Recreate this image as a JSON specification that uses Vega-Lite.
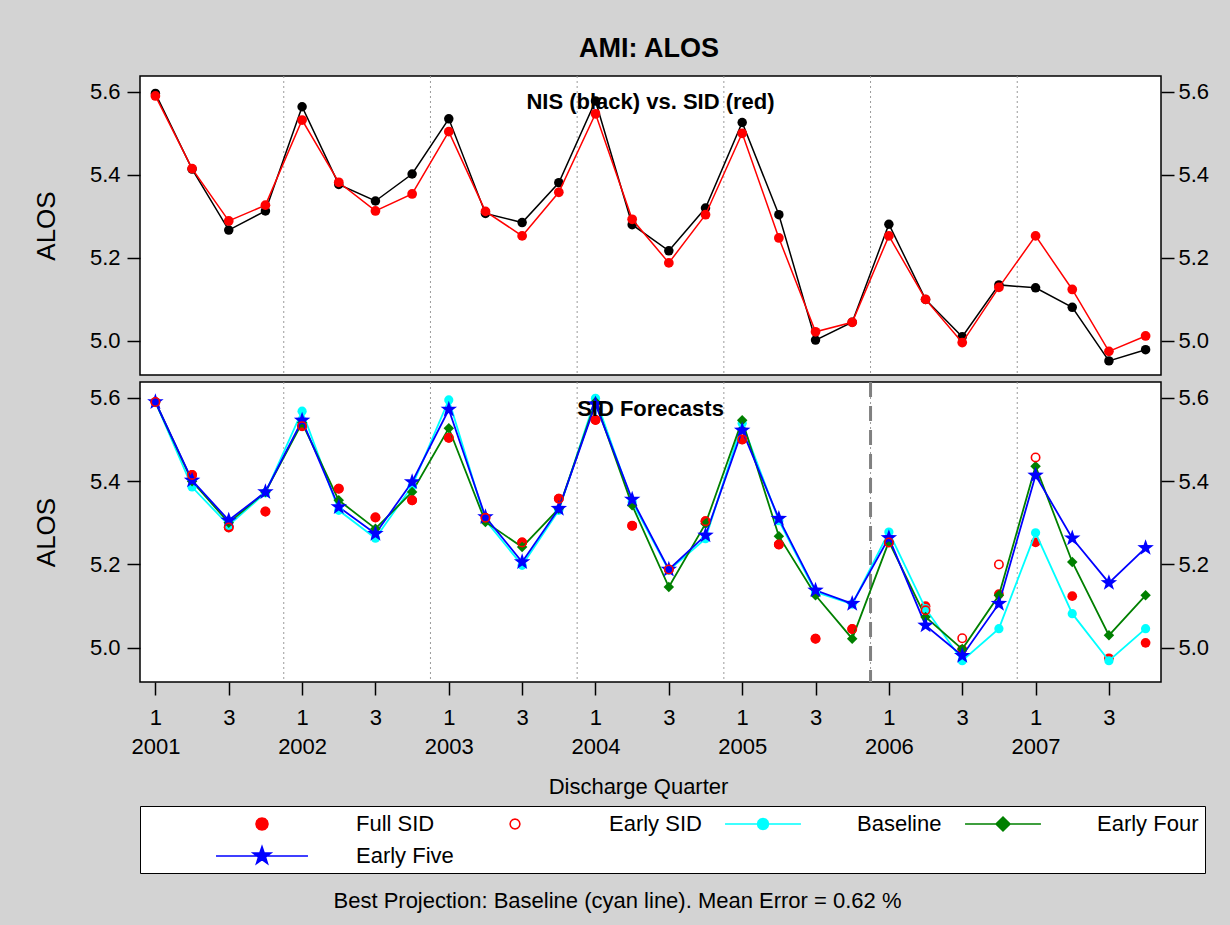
{
  "$schema": "https://vega.github.io/schema/vega-lite/v6.json",
  "background": "#d3d3d3",
  "padding": {"left": 32, "top": 34, "right": 22, "bottom": 15},
  "datasets": {
    "alos": [
      {"q":0,"series":"NIS","value":5.596},{"q":1,"series":"NIS","value":5.414},{"q":2,"series":"NIS","value":5.267},{"q":3,"series":"NIS","value":5.313},
      {"q":4,"series":"NIS","value":5.564},{"q":5,"series":"NIS","value":5.377},{"q":6,"series":"NIS","value":5.337},{"q":7,"series":"NIS","value":5.402},
      {"q":8,"series":"NIS","value":5.535},{"q":9,"series":"NIS","value":5.307},{"q":10,"series":"NIS","value":5.285},{"q":11,"series":"NIS","value":5.381},
      {"q":12,"series":"NIS","value":5.578},{"q":13,"series":"NIS","value":5.280},{"q":14,"series":"NIS","value":5.217},{"q":15,"series":"NIS","value":5.320},
      {"q":16,"series":"NIS","value":5.526},{"q":17,"series":"NIS","value":5.304},{"q":18,"series":"NIS","value":5.002},{"q":19,"series":"NIS","value":5.045},
      {"q":20,"series":"NIS","value":5.281},{"q":21,"series":"NIS","value":5.100},{"q":22,"series":"NIS","value":5.010},{"q":23,"series":"NIS","value":5.135},
      {"q":24,"series":"NIS","value":5.128},{"q":25,"series":"NIS","value":5.081},{"q":26,"series":"NIS","value":4.952},{"q":27,"series":"NIS","value":4.979},

      {"q":0,"series":"Full SID","value":5.590},{"q":1,"series":"Full SID","value":5.415},{"q":2,"series":"Full SID","value":5.289},{"q":3,"series":"Full SID","value":5.327},
      {"q":4,"series":"Full SID","value":5.532},{"q":5,"series":"Full SID","value":5.382},{"q":6,"series":"Full SID","value":5.313},{"q":7,"series":"Full SID","value":5.354},
      {"q":8,"series":"Full SID","value":5.504},{"q":9,"series":"Full SID","value":5.312},{"q":10,"series":"Full SID","value":5.253},{"q":11,"series":"Full SID","value":5.358},
      {"q":12,"series":"Full SID","value":5.547},{"q":13,"series":"Full SID","value":5.293},{"q":14,"series":"Full SID","value":5.188},{"q":15,"series":"Full SID","value":5.304},
      {"q":16,"series":"Full SID","value":5.500},{"q":17,"series":"Full SID","value":5.248},{"q":18,"series":"Full SID","value":5.022},{"q":19,"series":"Full SID","value":5.045},
      {"q":20,"series":"Full SID","value":5.253},{"q":21,"series":"Full SID","value":5.100},{"q":22,"series":"Full SID","value":4.996},{"q":23,"series":"Full SID","value":5.129},
      {"q":24,"series":"Full SID","value":5.253},{"q":25,"series":"Full SID","value":5.124},{"q":26,"series":"Full SID","value":4.975},{"q":27,"series":"Full SID","value":5.012},

      {"q":0,"series":"Early SID","value":5.590},{"q":1,"series":"Early SID","value":5.415},{"q":2,"series":"Early SID","value":5.289},{"q":3,"series":"Early SID","value":5.327},
      {"q":4,"series":"Early SID","value":5.532},{"q":5,"series":"Early SID","value":5.382},{"q":6,"series":"Early SID","value":5.313},{"q":7,"series":"Early SID","value":5.354},
      {"q":8,"series":"Early SID","value":5.504},{"q":9,"series":"Early SID","value":5.312},{"q":10,"series":"Early SID","value":5.253},{"q":11,"series":"Early SID","value":5.358},
      {"q":12,"series":"Early SID","value":5.547},{"q":13,"series":"Early SID","value":5.293},{"q":14,"series":"Early SID","value":5.188},{"q":15,"series":"Early SID","value":5.304},
      {"q":16,"series":"Early SID","value":5.500},{"q":17,"series":"Early SID","value":5.248},{"q":18,"series":"Early SID","value":5.022},{"q":19,"series":"Early SID","value":5.045},
      {"q":20,"series":"Early SID","value":5.253},{"q":21,"series":"Early SID","value":5.090},{"q":22,"series":"Early SID","value":5.023},{"q":23,"series":"Early SID","value":5.200},
      {"q":24,"series":"Early SID","value":5.457},

      {"q":0,"series":"Baseline","value":5.590},{"q":1,"series":"Baseline","value":5.386},{"q":2,"series":"Baseline","value":5.294},{"q":3,"series":"Baseline","value":5.372},
      {"q":4,"series":"Baseline","value":5.568},{"q":5,"series":"Baseline","value":5.330},{"q":6,"series":"Baseline","value":5.263},{"q":7,"series":"Baseline","value":5.388},
      {"q":8,"series":"Baseline","value":5.595},{"q":9,"series":"Baseline","value":5.306},{"q":10,"series":"Baseline","value":5.198},{"q":11,"series":"Baseline","value":5.330},
      {"q":12,"series":"Baseline","value":5.599},{"q":13,"series":"Baseline","value":5.350},{"q":14,"series":"Baseline","value":5.186},{"q":15,"series":"Baseline","value":5.262},
      {"q":16,"series":"Baseline","value":5.539},{"q":17,"series":"Baseline","value":5.305},{"q":18,"series":"Baseline","value":5.134},{"q":19,"series":"Baseline","value":5.105},
      {"q":20,"series":"Baseline","value":5.278},{"q":21,"series":"Baseline","value":5.094},{"q":22,"series":"Baseline","value":4.969},{"q":23,"series":"Baseline","value":5.046},
      {"q":24,"series":"Baseline","value":5.276},{"q":25,"series":"Baseline","value":5.082},{"q":26,"series":"Baseline","value":4.969},{"q":27,"series":"Baseline","value":5.046},

      {"q":0,"series":"Early Four","value":5.590},{"q":1,"series":"Early Four","value":5.400},{"q":2,"series":"Early Four","value":5.300},{"q":3,"series":"Early Four","value":5.374},
      {"q":4,"series":"Early Four","value":5.540},{"q":5,"series":"Early Four","value":5.354},{"q":6,"series":"Early Four","value":5.286},{"q":7,"series":"Early Four","value":5.374},
      {"q":8,"series":"Early Four","value":5.527},{"q":9,"series":"Early Four","value":5.302},{"q":10,"series":"Early Four","value":5.242},{"q":11,"series":"Early Four","value":5.334},
      {"q":12,"series":"Early Four","value":5.590},{"q":13,"series":"Early Four","value":5.342},{"q":14,"series":"Early Four","value":5.146},{"q":15,"series":"Early Four","value":5.298},
      {"q":16,"series":"Early Four","value":5.546},{"q":17,"series":"Early Four","value":5.268},{"q":18,"series":"Early Four","value":5.126},{"q":19,"series":"Early Four","value":5.022},
      {"q":20,"series":"Early Four","value":5.255},{"q":21,"series":"Early Four","value":5.074},{"q":22,"series":"Early Four","value":4.997},{"q":23,"series":"Early Four","value":5.126},
      {"q":24,"series":"Early Four","value":5.436},{"q":25,"series":"Early Four","value":5.206},{"q":26,"series":"Early Four","value":5.030},{"q":27,"series":"Early Four","value":5.126},

      {"q":0,"series":"Early Five","value":5.590},{"q":1,"series":"Early Five","value":5.402},{"q":2,"series":"Early Five","value":5.306},{"q":3,"series":"Early Five","value":5.374},
      {"q":4,"series":"Early Five","value":5.546},{"q":5,"series":"Early Five","value":5.338},{"q":6,"series":"Early Five","value":5.274},{"q":7,"series":"Early Five","value":5.398},
      {"q":8,"series":"Early Five","value":5.572},{"q":9,"series":"Early Five","value":5.314},{"q":10,"series":"Early Five","value":5.206},{"q":11,"series":"Early Five","value":5.334},
      {"q":12,"series":"Early Five","value":5.585},{"q":13,"series":"Early Five","value":5.356},{"q":14,"series":"Early Five","value":5.188},{"q":15,"series":"Early Five","value":5.270},
      {"q":16,"series":"Early Five","value":5.522},{"q":17,"series":"Early Five","value":5.310},{"q":18,"series":"Early Five","value":5.138},{"q":19,"series":"Early Five","value":5.106},
      {"q":20,"series":"Early Five","value":5.264},{"q":21,"series":"Early Five","value":5.054},{"q":22,"series":"Early Five","value":4.981},{"q":23,"series":"Early Five","value":5.106},
      {"q":24,"series":"Early Five","value":5.414},{"q":25,"series":"Early Five","value":5.263},{"q":26,"series":"Early Five","value":5.156},{"q":27,"series":"Early Five","value":5.240}
    ],
    "years": [{"b":3.5},{"b":7.5},{"b":11.5},{"b":15.5},{"b":19.5},{"b":23.5}],
    "forecast": [{"b":19.5}],
    "panels": [{"panel":"top","label":"NIS (black) vs. SID (red)"},{"panel":"bottom","label":"SID Forecasts"}]
  },
  "title": {"text": "AMI: ALOS", "anchor": "middle", "frame": "bounds", "dx": 28, "fontSize": 27, "fontWeight": "bold", "offset": 12, "color": "black"},
  "spacing": 2,
  "resolve": {
    "scale": {"fill": "independent", "stroke": "independent", "shape": "independent"},
    "legend": {"fill": "independent", "stroke": "independent", "shape": "independent"}
  },
  "vconcat": [
    {
      "width": 1021,
      "height": 299,
      "resolve": {"axis": {"y": "independent"}},
      "layer": [
        {
          "data": {"name": "years"},
          "mark": {"type": "rule", "color": "#9a9a9a", "strokeDash": [2, 3], "strokeWidth": 1},
          "encoding": {
            "x": {"field": "b", "type": "quantitative", "scale": {"domain": [-0.42, 27.42], "nice": false, "zero": false}, "axis": null}
          }
        },
        {
          "data": {"name": "alos"},
          "transform": [{"filter": {"field": "series", "equal": "NIS"}}],
          "mark": {"type": "line", "color": "black", "strokeWidth": 1.5},
          "encoding": {
            "x": {"field": "q", "type": "quantitative", "scale": {"domain": [-0.42, 27.42], "nice": false, "zero": false}, "axis": null},
            "y": {"field": "value", "type": "quantitative", "scale": {"domain": [4.918, 5.638], "nice": false, "zero": false},
                  "axis": {"orient": "left", "values": [5.0, 5.2, 5.4, 5.6], "format": ".1f", "title": "ALOS", "titleFontSize": 26, "titleFontWeight": "normal", "titlePadding": 30, "tickSize": 13, "labelPadding": 7}}
          }
        },
        {
          "data": {"name": "alos"},
          "transform": [{"filter": {"field": "series", "equal": "NIS"}}],
          "mark": {"type": "point", "shape": "circle", "filled": true, "color": "black", "size": 90, "opacity": 1},
          "encoding": {
            "x": {"field": "q", "type": "quantitative", "scale": {"domain": [-0.42, 27.42], "nice": false, "zero": false}, "axis": null},
            "y": {"field": "value", "type": "quantitative", "scale": {"domain": [4.918, 5.638], "nice": false, "zero": false},
                  "axis": {"orient": "right", "values": [5.0, 5.2, 5.4, 5.6], "format": ".1f", "title": null, "tickSize": 13, "labelPadding": 4}}
          }
        },
        {
          "data": {"name": "alos"},
          "transform": [{"filter": {"field": "series", "equal": "Full SID"}}],
          "mark": {"type": "line", "color": "#ff0000", "strokeWidth": 1.5},
          "encoding": {
            "x": {"field": "q", "type": "quantitative", "scale": {"domain": [-0.42, 27.42], "nice": false, "zero": false}, "axis": null},
            "y": {"field": "value", "type": "quantitative", "scale": {"domain": [4.918, 5.638], "nice": false, "zero": false}, "axis": null}
          }
        },
        {
          "data": {"name": "alos"},
          "transform": [{"filter": {"field": "series", "equal": "Full SID"}}],
          "mark": {"type": "point", "shape": "circle", "filled": true, "color": "#ff0000", "size": 95, "opacity": 1},
          "encoding": {
            "x": {"field": "q", "type": "quantitative", "scale": {"domain": [-0.42, 27.42], "nice": false, "zero": false}, "axis": null},
            "y": {"field": "value", "type": "quantitative", "scale": {"domain": [4.918, 5.638], "nice": false, "zero": false}, "axis": null}
          }
        },
        {
          "data": {"name": "panels"},
          "transform": [{"filter": {"field": "panel", "equal": "top"}}],
          "mark": {"type": "text", "fontSize": 22, "fontWeight": "bold", "color": "black", "align": "center", "baseline": "middle"},
          "encoding": {
            "x": {"datum": 13.5, "type": "quantitative", "scale": {"domain": [-0.42, 27.42], "nice": false, "zero": false}, "axis": null},
            "y": {"datum": 5.576, "type": "quantitative", "scale": {"domain": [4.918, 5.638], "nice": false, "zero": false}, "axis": null},
            "text": {"field": "label", "type": "nominal"}
          }
        }
      ]
    },
    {
      "width": 1021,
      "height": 300,
      "title": {"text": "Best Projection: Baseline (cyan line).   Mean Error = 0.62 %", "orient": "bottom", "anchor": "middle", "frame": "group", "dx": -33, "offset": 17, "fontSize": 22, "fontWeight": "normal", "color": "black"},
      "resolve": {"axis": {"y": "independent"}},
      "layer": [
        {
          "data": {"name": "years"},
          "mark": {"type": "rule", "color": "#9a9a9a", "strokeDash": [2, 3], "strokeWidth": 1},
          "encoding": {
            "x": {"field": "b", "type": "quantitative", "scale": {"domain": [-0.42, 27.42], "nice": false, "zero": false},
                  "axis": {"values": [0,1,2,3,4,5,6,7,8,9,10,11,12,13,14,15,16,17,18,19,20,21,22,23,24,25,26,27],
                           "labelExpr": "['' + (datum.value % 4 + 1), datum.value % 4 == 0 ? '' + (2001 + floor(datum.value / 4)) : '']",
                           "labelLineHeight": 29, "labelOverlap": false, "labelBound": false, "labelFlush": false,
                           "title": "Discharge Quarter", "titleX": 498, "titlePadding": 19, "titleFontSize": 22, "titleFontWeight": "normal",
                           "tickSize": 13, "labelPadding": 12, "labelAngle": 0}}
          }
        },
        {
          "data": {"name": "forecast"},
          "mark": {"type": "rule", "color": "#808080", "strokeDash": [15, 9], "strokeWidth": 3},
          "encoding": {
            "x": {"field": "b", "type": "quantitative", "scale": {"domain": [-0.42, 27.42], "nice": false, "zero": false}}
          }
        },
        {
          "data": {"name": "alos"},
          "transform": [{"filter": {"field": "series", "equal": "Full SID"}}],
          "mark": {"type": "point", "shape": "circle", "filled": true, "color": "#ff0000", "size": 95, "opacity": 1},
          "encoding": {
            "x": {"field": "q", "type": "quantitative", "scale": {"domain": [-0.42, 27.42], "nice": false, "zero": false}},
            "y": {"field": "value", "type": "quantitative", "scale": {"domain": [4.918, 5.638], "nice": false, "zero": false},
                  "axis": {"orient": "left", "values": [5.0, 5.2, 5.4, 5.6], "format": ".1f", "title": "ALOS", "titleFontSize": 26, "titleFontWeight": "normal", "titlePadding": 30, "tickSize": 13, "labelPadding": 7}}
          }
        },
        {
          "data": {"name": "alos"},
          "transform": [{"filter": {"field": "series", "equal": "Baseline"}}],
          "mark": {"type": "line", "color": "#00ffff", "strokeWidth": 1.8},
          "encoding": {
            "x": {"field": "q", "type": "quantitative", "scale": {"domain": [-0.42, 27.42], "nice": false, "zero": false}},
            "y": {"field": "value", "type": "quantitative", "scale": {"domain": [4.918, 5.638], "nice": false, "zero": false},
                  "axis": {"orient": "right", "values": [5.0, 5.2, 5.4, 5.6], "format": ".1f", "title": null, "tickSize": 13, "labelPadding": 4}}
          }
        },
        {
          "data": {"name": "alos"},
          "transform": [{"filter": {"field": "series", "equal": "Early Four"}}],
          "mark": {"type": "line", "color": "#008000", "strokeWidth": 1.8},
          "encoding": {
            "x": {"field": "q", "type": "quantitative", "scale": {"domain": [-0.42, 27.42], "nice": false, "zero": false}},
            "y": {"field": "value", "type": "quantitative", "scale": {"domain": [4.918, 5.638], "nice": false, "zero": false}, "axis": null}
          }
        },
        {
          "data": {"name": "alos"},
          "transform": [{"filter": {"field": "series", "equal": "Early Five"}}],
          "mark": {"type": "line", "color": "#0000ff", "strokeWidth": 1.8},
          "encoding": {
            "x": {"field": "q", "type": "quantitative", "scale": {"domain": [-0.42, 27.42], "nice": false, "zero": false}},
            "y": {"field": "value", "type": "quantitative", "scale": {"domain": [4.918, 5.638], "nice": false, "zero": false}, "axis": null}
          }
        },
        {
          "data": {"name": "alos"},
          "transform": [{"filter": {"field": "series", "equal": "Baseline"}}],
          "mark": {"type": "point", "shape": "circle", "filled": true, "color": "#00ffff", "size": 85, "opacity": 1},
          "encoding": {
            "x": {"field": "q", "type": "quantitative", "scale": {"domain": [-0.42, 27.42], "nice": false, "zero": false}},
            "y": {"field": "value", "type": "quantitative", "scale": {"domain": [4.918, 5.638], "nice": false, "zero": false}, "axis": null}
          }
        },
        {
          "data": {"name": "alos"},
          "transform": [{"filter": {"field": "series", "equal": "Early Four"}}],
          "mark": {"type": "point", "shape": "diamond", "filled": true, "color": "#008000", "size": 110, "opacity": 1},
          "encoding": {
            "x": {"field": "q", "type": "quantitative", "scale": {"domain": [-0.42, 27.42], "nice": false, "zero": false}},
            "y": {"field": "value", "type": "quantitative", "scale": {"domain": [4.918, 5.638], "nice": false, "zero": false}, "axis": null}
          }
        },
        {
          "data": {"name": "alos"},
          "transform": [{"filter": {"field": "series", "equal": "Early Five"}}],
          "mark": {"type": "point", "shape": "M0,-1L0.235,-0.324L0.951,-0.309L0.38,0.124L0.588,0.809L0,0.4L-0.588,0.809L-0.38,0.124L-0.951,-0.309L-0.235,-0.324Z", "filled": true, "color": "#0000ff", "size": 300, "opacity": 1},
          "encoding": {
            "x": {"field": "q", "type": "quantitative", "scale": {"domain": [-0.42, 27.42], "nice": false, "zero": false}},
            "y": {"field": "value", "type": "quantitative", "scale": {"domain": [4.918, 5.638], "nice": false, "zero": false}, "axis": null}
          }
        },
        {
          "data": {"name": "alos"},
          "transform": [{"filter": {"field": "series", "equal": "Early SID"}}],
          "mark": {"type": "point", "shape": "circle", "filled": false, "color": "#ff0000", "size": 70, "strokeWidth": 1.6, "opacity": 1},
          "encoding": {
            "x": {"field": "q", "type": "quantitative", "scale": {"domain": [-0.42, 27.42], "nice": false, "zero": false}},
            "y": {"field": "value", "type": "quantitative", "scale": {"domain": [4.918, 5.638], "nice": false, "zero": false}, "axis": null}
          }
        },
        {
          "data": {"name": "panels"},
          "transform": [{"filter": {"field": "panel", "equal": "bottom"}}],
          "mark": {"type": "text", "fontSize": 22, "fontWeight": "bold", "color": "black", "align": "center", "baseline": "middle"},
          "encoding": {
            "x": {"datum": 13.5, "type": "quantitative", "scale": {"domain": [-0.42, 27.42], "nice": false, "zero": false}},
            "y": {"datum": 5.574, "type": "quantitative", "scale": {"domain": [4.918, 5.638], "nice": false, "zero": false}, "axis": null},
            "text": {"field": "label", "type": "nominal"}
          }
        },
        {
          "data": {"name": "alos"},
          "transform": [{"filter": {"field": "series", "oneOf": ["Full SID", "Early SID", "Baseline", "Early Four", "Early Five"]}}],
          "mark": {"type": "point", "filled": true, "opacity": 0, "size": 484, "strokeWidth": 1.5, "clip": true},
          "encoding": {
            "x": {"field": "q", "type": "quantitative", "scale": {"domain": [-0.42, 27.42], "nice": false, "zero": false}},
            "y": {"field": "value", "type": "quantitative", "scale": {"domain": [4.918, 5.638], "nice": false, "zero": false}, "axis": null},
            "fill": {"field": "series", "type": "nominal",
                     "scale": {"domain": ["Full SID", "Early SID", "Baseline", "Early Four", "Early Five"], "range": ["#ff0000", "#ffffff", "#00ffff", "#008000", "#0000ff"]},
                     "legend": {"orient": "none", "legendX": 0, "legendY": 424, "direction": "horizontal", "columns": 4, "title": " ", "titleOrient": "left", "titlePadding": 69,
                                "symbolSize": 484, "symbolOffset": 35, "symbolStrokeWidth": 1.5, "symbolOpacity": 1, "labelFontSize": 22, "labelColor": "black", "labelOffset": 82, "labelLimit": 400,
                                "columnPadding": 12, "rowPadding": 8, "fillColor": "white", "strokeColor": "black", "padding": 6}},
            "stroke": {"field": "series", "type": "nominal",
                       "scale": {"domain": ["Full SID", "Early SID", "Baseline", "Early Four", "Early Five"], "range": ["#ff0000", "#ff0000", "#00ffff", "#008000", "#0000ff"]},
                       "legend": {"orient": "none", "legendX": 0, "legendY": 424, "direction": "horizontal", "columns": 4, "title": " ", "titleOrient": "left", "titlePadding": 69,
                                  "symbolSize": 484, "symbolOffset": 35, "symbolStrokeWidth": 1.5, "symbolOpacity": 1, "labelFontSize": 22, "labelColor": "black", "labelOffset": 82, "labelLimit": 400,
                                  "columnPadding": 12, "rowPadding": 8, "fillColor": "white", "strokeColor": "black", "padding": 6}},
            "shape": {"field": "series", "type": "nominal",
                      "scale": {"domain": ["Full SID", "Early SID", "Baseline", "Early Four", "Early Five"],
                                "range": [
                                  "M-4.18,0M4.18,0M0.55,0L0.476,0.275L0.275,0.476L0,0.55L-0.275,0.476L-0.476,0.275L-0.55,0L-0.476,-0.275L-0.275,-0.476L0,-0.55L0.275,-0.476L0.476,-0.275Z",
                                  "M-4.18,0M4.18,0M0.45,0L0.39,0.225L0.225,0.39L0,0.45L-0.225,0.39L-0.39,0.225L-0.45,0L-0.39,-0.225L-0.225,-0.39L0,-0.45L0.225,-0.39L0.39,-0.225Z",
                                  "M-4.18,0M4.18,0M-3.45,0L3.45,0M0.5,0L0.433,0.25L0.25,0.433L0,0.5L-0.25,0.433L-0.433,0.25L-0.5,0L-0.433,-0.25L-0.25,-0.433L0,-0.5L0.25,-0.433L0.433,-0.25Z",
                                  "M-4.18,0M4.18,0M-3.45,0L3.45,0M0,-0.64L0.64,0L0,0.64L-0.64,0Z",
                                  "M-4.18,0L4.18,0M0,-0.86L0.2,-0.275L0.818,-0.266L0.323,0.105L0.505,0.696L0,0.34L-0.505,0.696L-0.323,0.105L-0.818,-0.266L-0.2,-0.275Z"
                                ]},
                      "legend": {"orient": "none", "legendX": 0, "legendY": 424, "direction": "horizontal", "columns": 4, "title": " ", "titleOrient": "left", "titlePadding": 69,
                                 "symbolSize": 484, "symbolOffset": 35, "symbolStrokeWidth": 1.5, "symbolOpacity": 1, "labelFontSize": 22, "labelColor": "black", "labelOffset": 82, "labelLimit": 400,
                                 "columnPadding": 12, "rowPadding": 8, "fillColor": "white", "strokeColor": "black", "padding": 6}}
          }
        }
      ]
    }
  ],
  "config": {
    "font": "Liberation Sans",
    "view": {"stroke": "black", "strokeWidth": 1.5, "fill": "white"},
    "axis": {"domain": false, "grid": false, "tickColor": "black", "tickWidth": 1.5, "labelColor": "black", "labelFontSize": 22, "titleColor": "black"},
    "title": {"color": "black"}
  }
}
